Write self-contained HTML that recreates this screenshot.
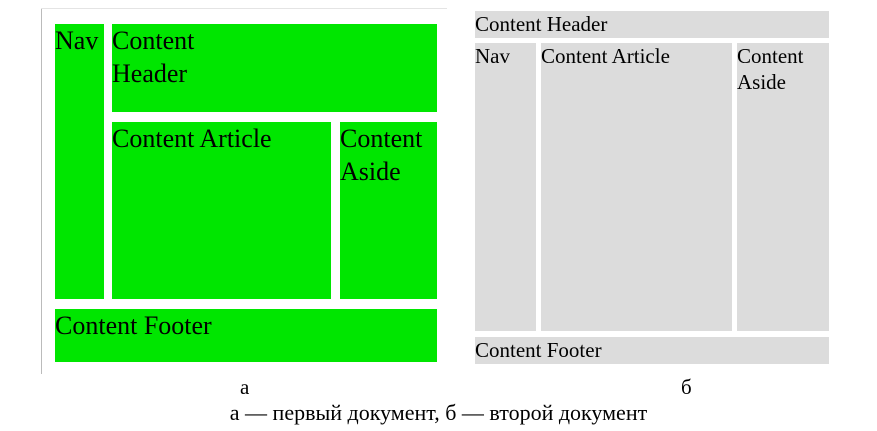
<!DOCTYPE html>
<html><head><meta charset="utf-8"><style>
body{margin:0;width:877px;height:431px;background:#fff;position:relative;overflow:hidden;font-family:"Liberation Serif",serif;color:#000}
.b{position:absolute;box-sizing:border-box}
.g{background:#00e600;font-size:26px;line-height:33px}
.r{background:#dcdcdc;font-size:21px;line-height:26px}
.t{position:absolute;font-size:20px;white-space:nowrap}
</style></head><body>
<div class="b" style="left:41px;top:8px;width:1px;height:366px;background:#bbb"></div>
<div class="b" style="left:41px;top:8px;width:406px;height:1px;background:#e4e4e4"></div>
<div class="b g" style="left:55px;top:24px;width:49px;height:275px">Nav</div>
<div class="b g" style="left:112px;top:24px;width:325px;height:88px">Content<br>Header</div>
<div class="b g" style="left:112px;top:122px;width:219px;height:177px">Content Article</div>
<div class="b g" style="left:340px;top:122px;width:97px;height:177px">Content<br>Aside</div>
<div class="b g" style="left:55px;top:309px;width:382px;height:53px">Content Footer</div>

<div class="b r" style="left:475px;top:11px;width:354px;height:27px">Content Header</div>
<div class="b r" style="left:475px;top:43px;width:61px;height:288px">Nav</div>
<div class="b r" style="left:541px;top:43px;width:191px;height:288px">Content Article</div>
<div class="b r" style="left:737px;top:43px;width:92px;height:288px">Content<br>Aside</div>
<div class="b r" style="left:475px;top:337px;width:354px;height:27px">Content Footer</div>

<div class="t" style="left:240px;top:375px;font-size:21px">а</div>
<div class="t" style="left:681px;top:375px;font-size:21px">б</div>
<div class="t" style="left:0;width:877px;text-align:center;top:400px;font-size:22px">а — первый документ, б — второй документ</div>
</body></html>
